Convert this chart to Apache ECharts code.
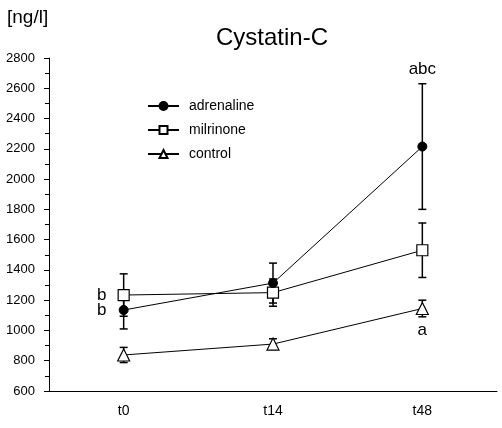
<!DOCTYPE html>
<html><head><meta charset="utf-8">
<script src="https://cdn.jsdelivr.net/npm/echarts@6/dist/echarts.min.js"></script>
<style>html,body{margin:0;padding:0;background:#fff}#c{width:502px;height:428px}</style>
</head><body><div id="c"></div>
<script>
const categories = ['t0', 't14', 't48'];
const adrenalineMean = [1135, 1313, 2215];
const adrenalineErr = [125, 132, 415];
const milrinoneMean = [1234, 1250, 1530];
const milrinoneErr = [140, 90, 180];
const controlMean = [838, 910, 1145];
const controlErr = [50, 35, 55];
const adrenalineNotes = ['b', '', 'abc'];
const milrinoneNotes = ['b', '', ''];
const controlNotes = ['', '', 'a'];
const yMin = 600, yMax = 2800, yInterval = 200;

const FONT = '"Liberation Sans", Arial, sans-serif';
// placement of note text relative to the point / error bar
const notePlace = {
  adrenaline: ['left', '', 'above'],
  milrinone: ['left', '', ''],
  control: ['', '', 'below']
};

function errorSeries(mean, err) {
  return {
    type: 'custom', silent: true, z: 1,
    data: mean.map((m, i) => [i, m - err[i], m + err[i]]),
    encode: { x: 0, y: [1, 2] },
    renderItem(params, api) {
      const lo = api.coord([api.value(0), api.value(1)]);
      const hi = api.coord([api.value(0), api.value(2)]);
      const w = 4, st = { stroke: '#000', lineWidth: 1.5 };
      return { type: 'group', children: [
        { type: 'line', shape: { x1: lo[0], y1: lo[1], x2: hi[0], y2: hi[1] }, style: st },
        { type: 'line', shape: { x1: lo[0] - w, y1: lo[1], x2: lo[0] + w, y2: lo[1] }, style: st },
        { type: 'line', shape: { x1: hi[0] - w, y1: hi[1], x2: hi[0] + w, y2: hi[1] }, style: st }
      ]};
    }
  };
}

function noteSeries(mean, err, notes, places) {
  return {
    type: 'custom', silent: true, z: 5,
    data: mean.map((m, i) => [i, m, err[i]]),
    encode: { x: 0, y: 1 },
    renderItem(params, api) {
      const i = params.dataIndex;
      const txt = notes[i];
      if (!txt) return null;
      const p = api.coord([api.value(0), api.value(1)]);
      const hi = api.coord([api.value(0), api.value(1) + api.value(2)]);
      const lo = api.coord([api.value(0), api.value(1) - api.value(2)]);
      let x = p[0], y = p[1];
      const pl = places[i];
      if (pl === 'left') { x = p[0] - 22; }
      else if (pl === 'above') { y = hi[1] - 14; }
      else if (pl === 'below') { y = lo[1] + 13; }
      return { type: 'text', x: x, y: y, style: {
        text: txt, fill: '#000', font: '17px ' + FONT,
        align: 'center', verticalAlign: 'middle', textAlign: 'center', textVerticalAlign: 'middle'
      }};
    }
  };
}

const lineStyle = { color: '#000', width: 1 };
const chart = echarts.init(document.getElementById('c'));
chart.setOption({
  animation: false,
  backgroundColor: '#fff',
  title: {
    text: 'Cystatin-C', left: 211, top: 21,
    textStyle: { fontFamily: FONT, fontSize: 24, fontWeight: 'normal', color: '#000' }
  },
  graphic: [{
    type: 'text', left: 7, top: 8,
    style: { text: '[ng/l]', font: '19px ' + FONT, fill: '#000' }
  }],
  legend: {
    orient: 'vertical', left: 142, top: 94,
    itemWidth: 31, itemHeight: 10, itemGap: 10,
    textStyle: { fontFamily: FONT, fontSize: 14, color: '#000', padding: [0, 0, 0, 5] },
    data: ['adrenaline', 'milrinone', 'control']
  },
  grid: { left: 49, right: 5, top: 58, bottom: 37, containLabel: false },
  xAxis: {
    type: 'category', data: categories,
    axisLine: { lineStyle: { color: '#000', width: 1 } },
    axisTick: { alignWithLabel: true, length: 5, lineStyle: { color: '#000' } },
    axisLabel: { color: '#000', fontFamily: FONT, fontSize: 14, margin: 13 },
    splitLine: { show: false }
  },
  yAxis: {
    type: 'value', min: yMin, max: yMax, interval: yInterval,
    axisLine: { show: true, lineStyle: { color: '#000', width: 1 } },
    axisTick: { show: true, length: 5, lineStyle: { color: '#000' } },
    minorTick: { show: true, splitNumber: 2, length: 4, lineStyle: { color: '#000' } },
    axisLabel: { color: '#000', fontFamily: FONT, fontSize: 13, margin: 14, formatter: v => String(v) },
    splitLine: { show: false }
  },
  series: [
    errorSeries(controlMean, controlErr),
    errorSeries(milrinoneMean, milrinoneErr),
    errorSeries(adrenalineMean, adrenalineErr),
    {
      name: 'control', type: 'line', data: controlMean, z: 3,
      symbol: 'triangle', symbolSize: 12,
      lineStyle: lineStyle,
      itemStyle: { color: '#fff', borderColor: '#000', borderWidth: 1.2 }
    },
    {
      name: 'milrinone', type: 'line', data: milrinoneMean, z: 3,
      symbol: 'rect', symbolSize: 11,
      lineStyle: lineStyle,
      itemStyle: { color: '#fff', borderColor: '#000', borderWidth: 1.2 }
    },
    {
      name: 'adrenaline', type: 'line', data: adrenalineMean, z: 4,
      symbol: 'circle', symbolSize: 9,
      lineStyle: lineStyle,
      itemStyle: { color: '#000', borderColor: '#000', borderWidth: 1 }
    },
    noteSeries(adrenalineMean, adrenalineErr, adrenalineNotes, notePlace.adrenaline),
    noteSeries(milrinoneMean, milrinoneErr, milrinoneNotes, notePlace.milrinone),
    noteSeries(controlMean, controlErr, controlNotes, notePlace.control)
  ]
});
</script></body></html>
